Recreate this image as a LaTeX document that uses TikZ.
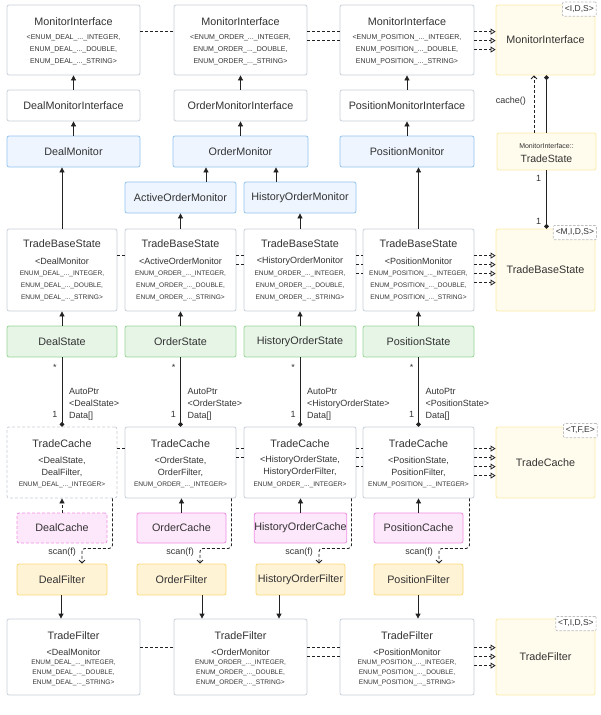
\documentclass[tikz,border=0pt]{standalone}
\usepackage{fontspec}
\setmainfont{Liberation Sans}
\usetikzlibrary{arrows.meta,calc}
\definecolor{txt}{RGB}{51,51,51}
\definecolor{gline}{RGB}{200,208,216}
\definecolor{bfill}{RGB}{238,245,255}
\definecolor{bline}{RGB}{145,195,240}
\definecolor{gfill}{RGB}{231,245,231}
\definecolor{gline2}{RGB}{150,212,150}
\definecolor{pfill}{RGB}{253,232,251}
\definecolor{pline}{RGB}{240,140,226}
\definecolor{ofill}{RGB}{255,243,214}
\definecolor{oline}{RGB}{250,216,120}
\definecolor{yfill}{RGB}{255,252,237}
\definecolor{yline}{RGB}{250,234,165}
\definecolor{tagline}{RGB}{190,190,190}
\definecolor{conn}{RGB}{34,34,34}
\newcommand\ftitle{\fontsize{10.8}{13}\selectfont}
\newcommand\fmed{\fontsize{9}{12}\selectfont}
\newcommand\fsm{\fontsize{6.6}{12}\selectfont}
\newcommand\fsmtf{\fontsize{6.6}{10}\selectfont}
\newcommand\fsmtop{\fontsize{7}{12}\selectfont}
\newcommand\fsmall{\fontsize{7}{9}\selectfont}
% MonitorInterface box (top row)
\newcommand\minode[4]{%
  \node[plainbox, minimum width=#3pt, minimum height=70pt] (#1) at (#2,40) {};
  \node[tx, font=\ftitle] (#1t) at ($(#1.north)+(0,17)$) {MonitorInterface};
  \node[tx, font=\fsmtop, align=center] (#1e) at ($(#1.north)+(0,45)$)
    {<ENUM\_#4\_...\_INTEGER,\\ENUM\_#4\_...\_DOUBLE,\\ENUM\_#4\_...\_STRING>};}
% TradeBaseState box
\newcommand\tbsnode[5]{%
  \node[plainbox, minimum width=#3pt, minimum height=82pt] (#1) at (#2,270) {};
  \node[tx, font=\ftitle] (#1t) at ($(#1.north)+(0,15)$) {TradeBaseState};
  \node[tx, font=\fmed] (#1m) at ($(#1.north)+(0,33)$) {<#4};
  \node[tx, font=\fsm, align=center] (#1e) at ($(#1.north)+(0,57)$)
    {ENUM\_#5\_...\_INTEGER,\\ENUM\_#5\_...\_DOUBLE,\\ENUM\_#5\_...\_STRING>};}
% TradeCache box
\newcommand\tcnode[7]{%
  \node[plainbox, #7, minimum width=#3pt, minimum height=71pt] (#1) at (#2,462.5) {};
  \node[tx, font=\ftitle] (#1t) at ($(#1.north)+(0,17)$) {TradeCache};
  \node[tx, font=\fmed, align=center] (#1m) at ($(#1.north)+(0,40)$) {<#4,\\#5,};
  \node[tx, font=\fsm] (#1e) at ($(#1.north)+(0,58)$) {ENUM\_#6\_...\_INTEGER>};}
% TradeFilter box
\newcommand\tfnode[5]{%
  \node[plainbox, minimum width=#3pt, minimum height=76pt] (#1) at (#2,657) {};
  \node[tx, font=\ftitle] (#1t) at ($(#1.north)+(0,17)$) {TradeFilter};
  \node[tx, font=\fmed] (#1m) at ($(#1.north)+(0,34)$) {<#4};
  \node[tx, font=\fsmtf, align=center] (#1e) at ($(#1.north)+(0,54)$)
    {ENUM\_#5\_...\_INTEGER,\\ENUM\_#5\_...\_DOUBLE,\\ENUM\_#5\_...\_STRING>};}
\begin{document}
\begin{tikzpicture}[x=1pt,y=-1pt,
  boxbase/.style={draw, rounded corners=2pt, inner sep=0pt, line width=0.8pt, text=txt},
  plainbox/.style={boxbase, draw=gline, fill=white},
  monbox/.style={boxbase, draw=bline, fill=bfill, font=\ftitle},
  statebox/.style={boxbase, draw=gline2, fill=gfill, font=\ftitle},
  cachebox/.style={boxbase, draw=pline, fill=pfill, font=\ftitle},
  filterbox/.style={boxbase, draw=oline, fill=ofill, font=\ftitle},
  ifacebox/.style={boxbase, draw=yline, fill=yfill, font=\ftitle},
  tagbox/.style={draw=tagline, dash pattern=on 2.5pt off 1.5pt, fill=white, line width=0.7pt,
    inner xsep=2.5pt, inner ysep=3pt, text height=6.3pt, text depth=1.8pt,
    font=\fontsize{8.5}{10}\selectfont, text=txt, rounded corners=1pt},
  tx/.style={inner sep=0pt, text=txt},
  lbl/.style={inner sep=0pt, text=txt, font=\fmed},
  inh/.style={draw=conn, line width=0.8pt, -{Triangle[length=5pt,width=5pt]}},
  assoc/.style={draw=conn, line width=0.8pt, dash pattern=on 3pt off 2pt},
  real/.style={assoc, -{Triangle[open,length=5pt,width=6pt]}},
  comp/.style={draw=conn, line width=0.8pt, -{Circle[length=4.5pt]}},
  depend/.style={draw=conn, line width=0.8pt, dash pattern=on 3pt off 2pt,
    -{Straight Barb[length=3pt,width=6pt]}}
]
\useasboundingbox (0,0) rectangle (600,715);

% ---------- Row 1: MonitorInterface ----------
\minode{mi1}{73.5}{133}{DEAL}
\minode{mi2}{240.5}{133}{ORDER}
\minode{mi3}{407}{134}{POSITION}
\node[ifacebox, minimum width=99pt, minimum height=70pt] (miY) at (545.5,40) {MonitorInterface};
\node[tagbox] (miTag) at ($(miY.north east)+(-16,4.5)$) {<I,D,S>};

% ---------- Row 2/3/4 ----------
\node[plainbox, font=\ftitle, minimum width=133pt, minimum height=31pt] (dmi) at (73.5,105.5) {DealMonitorInterface};
\node[plainbox, font=\ftitle, minimum width=133pt, minimum height=31pt] (omi) at (240.5,105.5) {OrderMonitorInterface};
\node[plainbox, font=\ftitle, minimum width=134pt, minimum height=31pt] (pmi) at (407,105.5) {PositionMonitorInterface};
\node[monbox, minimum width=133pt, minimum height=31pt] (dm) at (73.5,151.5) {DealMonitor};
\node[monbox, minimum width=135pt, minimum height=31pt] (om) at (240.5,151.5) {OrderMonitor};
\node[monbox, minimum width=134pt, minimum height=31pt] (pm) at (407,151.5) {PositionMonitor};
\node[monbox, minimum width=111pt, minimum height=31pt] (aom) at (180.5,197.5) {ActiveOrderMonitor};
\node[monbox, minimum width=112pt, minimum height=31pt] (hom) at (300,197.5) {HistoryOrderMonitor};

\node[ifacebox, minimum width=99pt, minimum height=37pt] (ts) at (546.5,151.5) {};
\node[tx, font=\fsmall] (tsa) at ($(ts.north)+(0,13)$) {MonitorInterface::};
\node[tx, font=\fontsize{10.5}{12}\selectfont] (tsb) at ($(ts.north)+(0,26)$) {TradeState};

% ---------- Row 5: TradeBaseState ----------
\tbsnode{tbs1}{62}{110}{DealMonitor}{DEAL}
\tbsnode{tbs2}{180.5}{111}{ActiveOrderMonitor}{ORDER}
\tbsnode{tbs3}{300}{112}{HistoryOrderMonitor}{ORDER}
\tbsnode{tbs4}{418.5}{111}{PositionMonitor}{POSITION}
\node[ifacebox, minimum width=99pt, minimum height=82pt] (tbsY) at (545.5,270) {TradeBaseState};
\node[tagbox] (tbsTag) at ($(tbsY.north east)+(-20.5,4)$) {<M,I,D,S>};

% ---------- Row 6: States ----------
\node[statebox, minimum width=110pt, minimum height=31pt] (st1) at (62,341.5) {DealState};
\node[statebox, minimum width=111pt, minimum height=31pt] (st2) at (180.5,341.5) {OrderState};
\node[statebox, minimum width=112pt, minimum height=31pt] (st3) at (300,341.5) {HistoryOrderState};
\node[statebox, minimum width=111pt, minimum height=31pt] (st4) at (418.5,341.5) {PositionState};

% ---------- Row 7: TradeCache ----------
\tcnode{tc1}{62}{110}{DealState}{DealFilter}{DEAL}{dash pattern=on 3pt off 2pt}
\tcnode{tc2}{180.5}{111}{OrderState}{OrderFilter}{ORDER}{}
\tcnode{tc3}{300}{112}{HistoryOrderState}{HistoryOrderFilter}{ORDER}{}
\tcnode{tc4}{418.5}{111}{PositionState}{PositionFilter}{POSITION}{}
\node[ifacebox, minimum width=99pt, minimum height=71pt] (tcY) at (545.5,462.5) {TradeCache};
\node[tagbox] (tcTag) at ($(tcY.north east)+(-15,4)$) {<T,F,E>};

% ---------- Row 8: Caches ----------
\node[cachebox, dash pattern=on 3pt off 2pt, minimum width=90pt, minimum height=30pt] (ca1) at (62,528) {DealCache};
\node[cachebox, minimum width=89pt, minimum height=30pt] (ca2) at (181.5,528) {OrderCache};
\node[cachebox, minimum width=89pt, minimum height=30pt] (ca3) at (300.5,528) {HistoryOrderCache};
\node[cachebox, minimum width=89pt, minimum height=30pt] (ca4) at (418.5,528) {PositionCache};

% ---------- Row 9: Filters ----------
\node[filterbox, minimum width=90pt, minimum height=31pt] (fi1) at (62,579.5) {DealFilter};
\node[filterbox, minimum width=89pt, minimum height=31pt] (fi2) at (181.5,579.5) {OrderFilter};
\node[filterbox, minimum width=89pt, minimum height=31pt] (fi3) at (300.5,579.5) {HistoryOrderFilter};
\node[filterbox, minimum width=89pt, minimum height=31pt] (fi4) at (418.5,579.5) {PositionFilter};

% ---------- Row 10: TradeFilter ----------
\tfnode{tf1}{73.5}{133}{DealMonitor}{DEAL}
\tfnode{tf2}{240.5}{133}{OrderMonitor}{ORDER}
\tfnode{tf3}{407}{134}{PositionMonitor}{POSITION}
\node[ifacebox, minimum width=99pt, minimum height=76pt] (tfY) at (545.5,657) {TradeFilter};
\node[tagbox] (tfTag) at ($(tfY.north east)+(-19.5,5)$) {<T,I,D,S>};

% ---------- Inheritance arrows ----------
\draw[inh] (dmi.north) -- (mi1.south);
\draw[inh] (omi.north) -- (mi2.south);
\draw[inh] (pmi.north) -- (mi3.south);
\draw[inh] (dm.north) -- (dmi.south);
\draw[inh] (om.north) -- (omi.south);
\draw[inh] (pm.north) -- (pmi.south);
\path ([xshift=25.5pt]aom.north) coordinate (aomT);
\path ([xshift=-24pt]hom.north) coordinate (homT);
\draw[inh] (aomT) -- (aomT |- om.south);
\draw[inh] (homT) -- (homT |- om.south);
\draw[inh] (tbs1.north) -- (tbs1.north |- dm.south);
\draw[inh] (tbs2.north) -- (tbs2.north |- aom.south);
\draw[inh] (tbs3.north) -- (tbs3.north |- hom.south);
\draw[inh] (tbs4.north) -- (tbs4.north |- pm.south);
\foreach \i in {1,2,3,4} {
  \draw[inh] (st\i.north) -- (st\i.north |- tbs\i.south);
}
\draw[inh, dash pattern=on 3pt off 2pt] (ca1.north) -- (ca1.north |- tc1.south);
\foreach \i in {2,3,4} {
  \draw[inh] (ca\i.north) -- (ca\i.north |- tc\i.south);
}
\path ([xshift=-1pt]fi1.south) coordinate (fi1B);
\path ([xshift=20.5pt]fi2.south) coordinate (fi2B);
\path ([xshift=-21.5pt]fi3.south) coordinate (fi3B);
\path ([xshift=-0.5pt]fi4.south) coordinate (fi4B);
\draw[inh] (fi1B) -- (fi1B |- tf1.north);
\draw[inh] (fi2B) -- (fi2B |- tf2.north);
\draw[inh] (fi3B) -- (fi3B |- tf2.north);
\draw[inh] (fi4B) -- (fi4B |- tf3.north);

% ---------- Horizontal dashed links ----------
\foreach \k in {27} { \path ([yshift=-\k pt]mi1.north east) coordinate (p); \draw[assoc] (p) -- (p -| mi2.west); }
\foreach \k in {27,36} { \path ([yshift=-\k pt]mi2.north east) coordinate (p); \draw[assoc] (p) -- (p -| mi3.west); }
\foreach \k in {27,36,45} { \path ([yshift=-\k pt]mi3.north east) coordinate (p); \draw[real] (p) -- (p -| miY.west); }

\foreach \k in {27} { \path ([yshift=-\k pt]tbs1.north east) coordinate (p); \draw[assoc] (p) -- (p -| tbs2.west); }
\foreach \k in {27,36} { \path ([yshift=-\k pt]tbs2.north east) coordinate (p); \draw[assoc] (p) -- (p -| tbs3.west); }
\foreach \k in {27,36,45} { \path ([yshift=-\k pt]tbs3.north east) coordinate (p); \draw[assoc] (p) -- (p -| tbs4.west); }
\foreach \k in {27,36,45,54} { \path ([yshift=-\k pt]tbs4.north east) coordinate (p); \draw[real] (p) -- (p -| tbsY.west); }

\foreach \k in {22} { \path ([yshift=-\k pt]tc1.north east) coordinate (p); \draw[assoc] (p) -- (p -| tc2.west); }
\foreach \k in {22,31} { \path ([yshift=-\k pt]tc2.north east) coordinate (p); \draw[assoc] (p) -- (p -| tc3.west); }
\foreach \k in {22,31,40} { \path ([yshift=-\k pt]tc3.north east) coordinate (p); \draw[assoc] (p) -- (p -| tc4.west); }
\foreach \k in {22,31,40,49} { \path ([yshift=-\k pt]tc4.north east) coordinate (p); \draw[real] (p) -- (p -| tcY.west); }

\foreach \k in {29} { \path ([yshift=-\k pt]tf1.north east) coordinate (p); \draw[assoc] (p) -- (p -| tf2.west); }
\foreach \k in {29,38} { \path ([yshift=-\k pt]tf2.north east) coordinate (p); \draw[assoc] (p) -- (p -| tf3.west); }
\foreach \k in {29,38,47} { \path ([yshift=-\k pt]tf3.north east) coordinate (p); \draw[real] (p) -- (p -| tfY.west); }

% ---------- AutoPtr compositions ----------
\foreach \i/\s in {1/DealState,2/OrderState,3/HistoryOrderState,4/PositionState} {
  \draw[comp] (st\i.south) -- (st\i.south |- tc\i.north);
  \node[lbl] (star\i) at ($(st\i.south)+(-7,10)$) {*};
  \node[lbl] (one\i) at ($(tc\i.north)+(-7,-12)$) {1};
  \node[lbl, anchor=west, align=left] (ap\i) at ($(st\i.south)+(7,47)$) {AutoPtr\\<\s>\\Data[]};
}

% ---------- scan(f) dependencies ----------
\foreach \i/\dx in {1/20,2/18.5,3/18.5,4/20.5} {
  \path ([xshift=-5pt]tc\i.south east) coordinate (sc\i);
  \path ([xshift=\dx pt]fi\i.north) coordinate (fe\i);
  \draw[depend, rounded corners=3pt] (sc\i) -- ++(0,50) -| (fe\i);
  \node[lbl, anchor=east] (scl\i) at ($(fe\i)+(-6,-11)$) {scan(f)};
}

% ---------- Right column ----------
\path ([xshift=-12.5pt]ts.north) coordinate (tsA);
\draw[depend] (tsA) -- (tsA |- miY.south);
\node[lbl, anchor=east] (cachel) at ($(tsA)+(-8,-31)$) {cache()};
\draw[comp] (ts.north) -- (ts.north |- miY.south);
\draw[comp] (ts.south) -- (ts.south |- tbsY.north);
\node[lbl] (tsone1) at ($(ts.south)+(-8,8)$) {1};
\node[lbl] (tsone2) at ($(ts.south |- tbsY.north)+(-8,-7)$) {1};
\end{tikzpicture}
\end{document}
